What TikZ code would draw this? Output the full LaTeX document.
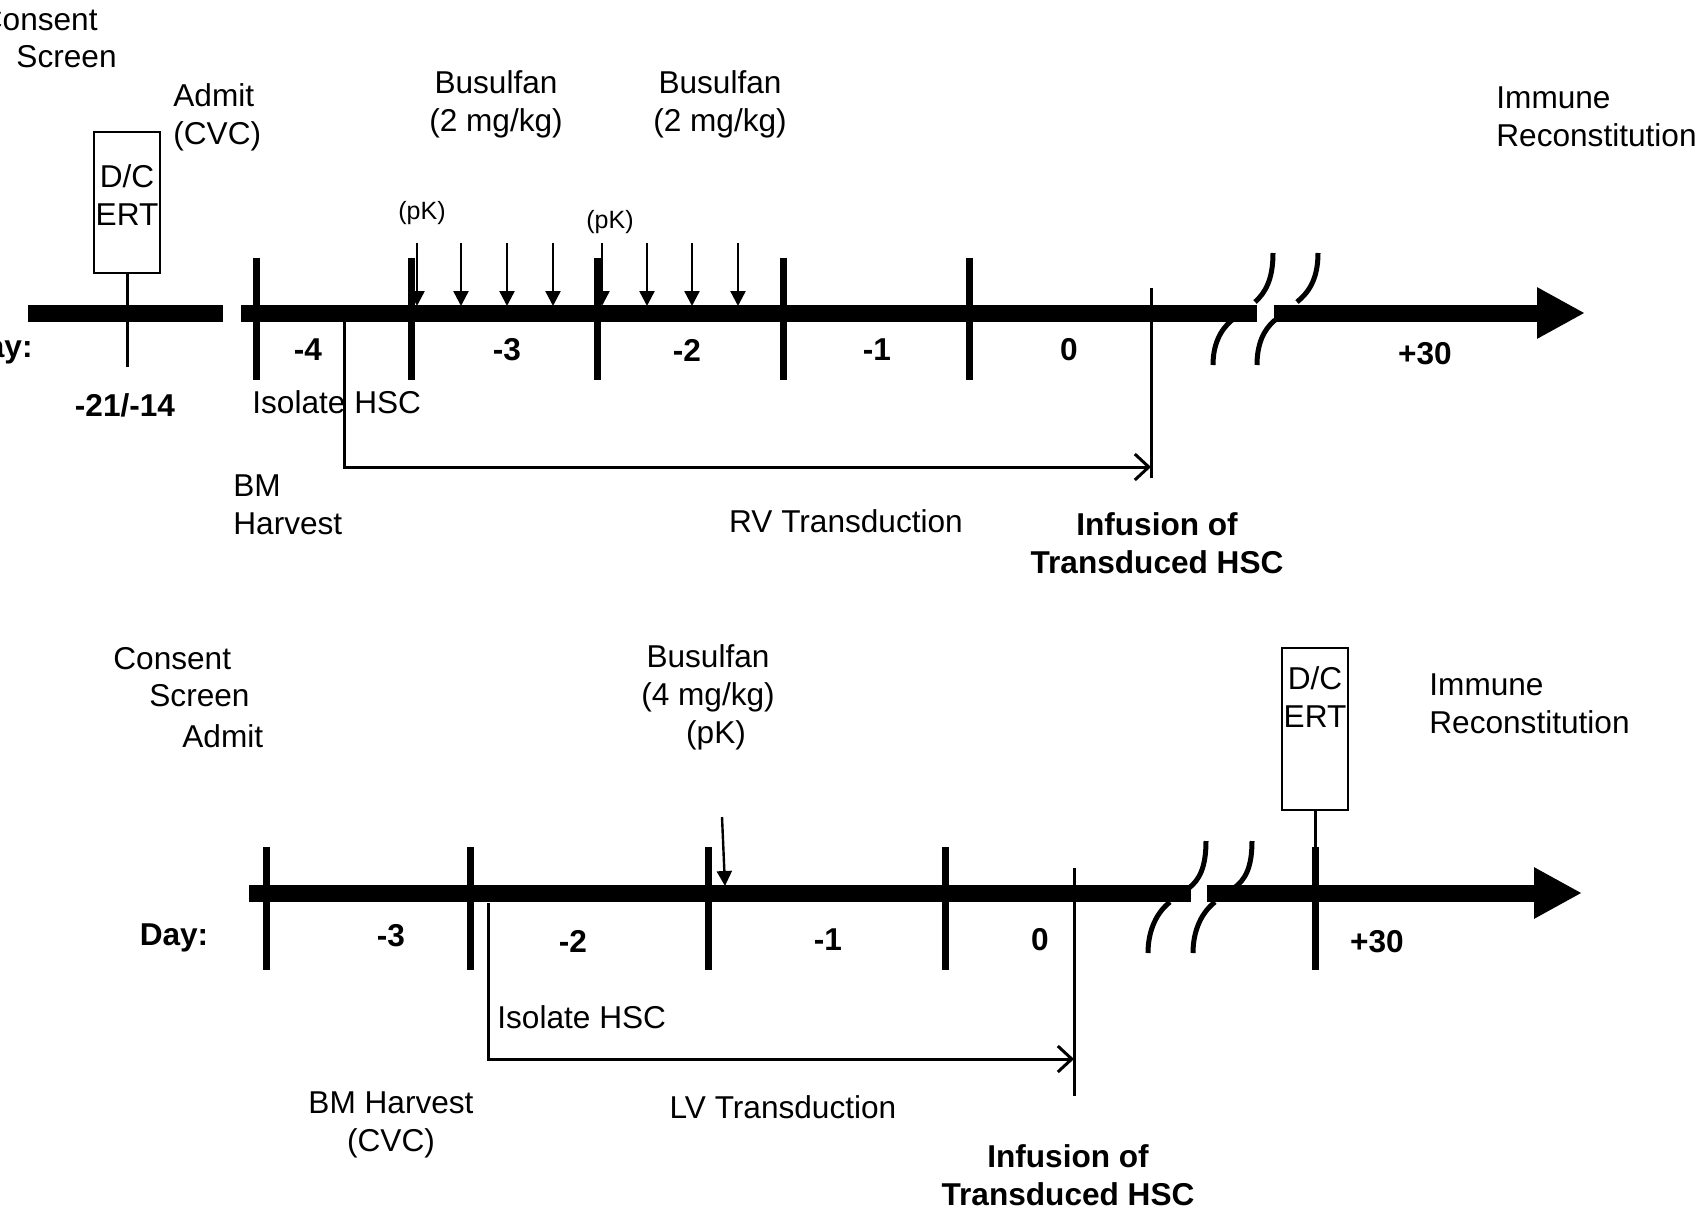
\documentclass[tikz,border=0pt]{standalone}
\usepackage{fontspec}
\setmainfont{Liberation Sans}
\usetikzlibrary{arrows.meta}

\tikzset{
  timeline/.style={line width=8.5pt},
  headline/.style={line width=8.5pt,-{Triangle[length=24pt,width=24pt]}},
  daytick/.style={line width=3.5pt},
  stem/.style={line width=1.5pt},
  dose/.style={line width=1.2pt,-{Triangle[length=7.5pt,width=7.5pt]}},
  bracket/.style={line width=1.5pt,-{Straight Barb[length=7pt,width=13pt,line width=1.5pt]}},
  brk/.style={line width=2.5pt},
  dcbox/.style={draw,line width=1pt,minimum width=33pt,inner sep=0pt},
  lbl/.style={font=\fontsize{15.8}{19}\selectfont,inner sep=0pt},
  daylbl/.style={font=\fontsize{15.8}{19}\selectfont\bfseries,inner sep=0pt},
  pklbl/.style={font=\fontsize{12.5}{15}\selectfont,inner sep=0pt}
}

\begin{document}
\begin{tikzpicture}[x=0.5pt,y=-0.5pt]
\useasboundingbox (0,0) rectangle (1702,1210);

% upper schedule
\draw[timeline] (28,313) -- (223,313);
\draw[timeline] (241,313) -- (1257,313);
\draw[headline] (1274,313) -- (1585,313);

\foreach \x in {256,411,597,783,969}
  \draw[daytick] (\x,258) -- (\x,380);

\draw[brk] (1273,253) .. controls (1273,280) and (1265,293) .. (1255,302);
\draw[brk] (1318,253) .. controls (1318,280) and (1308,293) .. (1297,302);
\draw[brk] (1232,320) .. controls (1220,330) and (1213,345) .. (1213,365);
\draw[brk] (1275,320) .. controls (1263,330) and (1257,345) .. (1257,365);

\foreach \x in {417,461,507,553,602,647,692,738}
  \draw[dose] (\x,243) -- (\x,306);

\node[dcbox,minimum height=70.5pt] (erttop) at (127,202) {};
\node[lbl,align=center] (erttoptxt) at (127,195) {D/C\\ERT};
\coordinate (erttopend) at (127,367);
\draw[stem] (erttop.south) -- (erttopend);

\coordinate (harvtop) at (344,322);
\coordinate (inftop) at (1151,467);
\draw[stem] (1151,288) -- (1151,478);
\draw[bracket] (harvtop) |- (inftop);

\node[lbl,anchor=east] (consenttop) at (98,20) {Consent};
\node[lbl,anchor=east] (screentop) at (117,57) {Screen};
\node[lbl,anchor=west,align=left] (admittop) at (173,117) {Admit\\(CVC)};
\node[lbl,align=center] (busA) at (496,104) {Busulfan\\(2 mg/kg)};
\node[lbl,align=center] (busB) at (720,104) {Busulfan\\(2 mg/kg)};
\node[lbl,anchor=west,align=left] (immtop) at (1496,117) {Immune\\Reconstitution};
\node[pklbl] (pkA) at (422,213) {(pK)};
\node[pklbl] (pkB) at (610,222) {(pK)};

\node[daylbl,anchor=east] (daytop) at (33,350) {Day:};
\node[daylbl] (dtm4) at (308,350) {-4};
\node[daylbl] (dtm3) at (507,350) {-3};
\node[daylbl] (dtm2) at (687,350) {-2};
\node[daylbl] (dtm1) at (877,350) {-1};
\node[daylbl] (dt0) at (1069,350) {0};
\node[daylbl] (dt30) at (1425,354) {+30};
\node[daylbl] (dtm21) at (125,405) {-21/-14};

\node[lbl,anchor=west] (isotop) at (252,402) {Isolate HSC};
\node[lbl,anchor=west,align=left] (bmtop) at (233,505) {BM\\Harvest};
\node[lbl] (rv) at (846,521) {RV Transduction};
\node[daylbl,align=center] (inftoptxt) at (1157,543) {Infusion of\\Transduced HSC};

% lower schedule
\draw[timeline] (249,893) -- (1191,893);
\draw[headline] (1207,893) -- (1582,893);

\foreach \x in {266,470,708,945,1315}
  \draw[daytick] (\x,847) -- (\x,970);

\draw[brk] (1206,841) .. controls (1206,868) and (1199,880) .. (1189,888);
\draw[brk] (1252,841) .. controls (1252,868) and (1245,880) .. (1234,888);
\draw[brk] (1170,902) .. controls (1157,912) and (1148,930) .. (1148,953);
\draw[brk] (1215,902) .. controls (1202,912) and (1193,930) .. (1193,953);

\coordinate (doseA) at (722,817);
\coordinate (doseB) at (725,886);
\draw[dose] (doseA) -- (doseB);

\node[dcbox,minimum height=81pt] (ertbot) at (1315,729) {};
\node[lbl,align=center] (ertbottxt) at (1315,697) {D/C\\ERT};
\coordinate (ertbotend) at (1315,893);
\draw[stem] (ertbot.south) -- (ertbotend);

\coordinate (harvbot) at (488,903);
\coordinate (infbot) at (1074,1059);
\draw[stem] (1074,868) -- (1074,1096);
\draw[bracket] (harvbot) |- (infbot);

\node[lbl,anchor=west] (consentbot) at (113,659) {Consent};
\node[lbl,anchor=west] (screenbot) at (149,696) {Screen};
\node[lbl,anchor=west] (admitbot) at (182,736) {Admit};
\node[lbl,align=center] (busC) at (708,697) {Busulfan\\(4 mg/kg)\\\hspace*{8pt}(pK)};
\node[lbl,anchor=west,align=left] (immbot) at (1429,704) {Immune\\Reconstitution};

\node[daylbl] (daybot) at (174,938) {Day:};
\node[daylbl] (dbm3) at (391,936) {-3};
\node[daylbl] (dbm2) at (573,941) {-2};
\node[daylbl] (dbm1) at (828,940) {-1};
\node[daylbl] (db0) at (1040,940) {0};
\node[daylbl] (db30) at (1377,942) {+30};

\node[lbl,anchor=west] (isobot) at (497,1017) {Isolate HSC};
\node[lbl,align=center] (bmbot) at (391,1125) {BM Harvest\\(CVC)};
\node[lbl] (lv) at (783,1107) {LV Transduction};
\node[daylbl,align=center] (infbottxt) at (1068,1175) {Infusion of\\Transduced HSC};
\end{tikzpicture}
\end{document}
